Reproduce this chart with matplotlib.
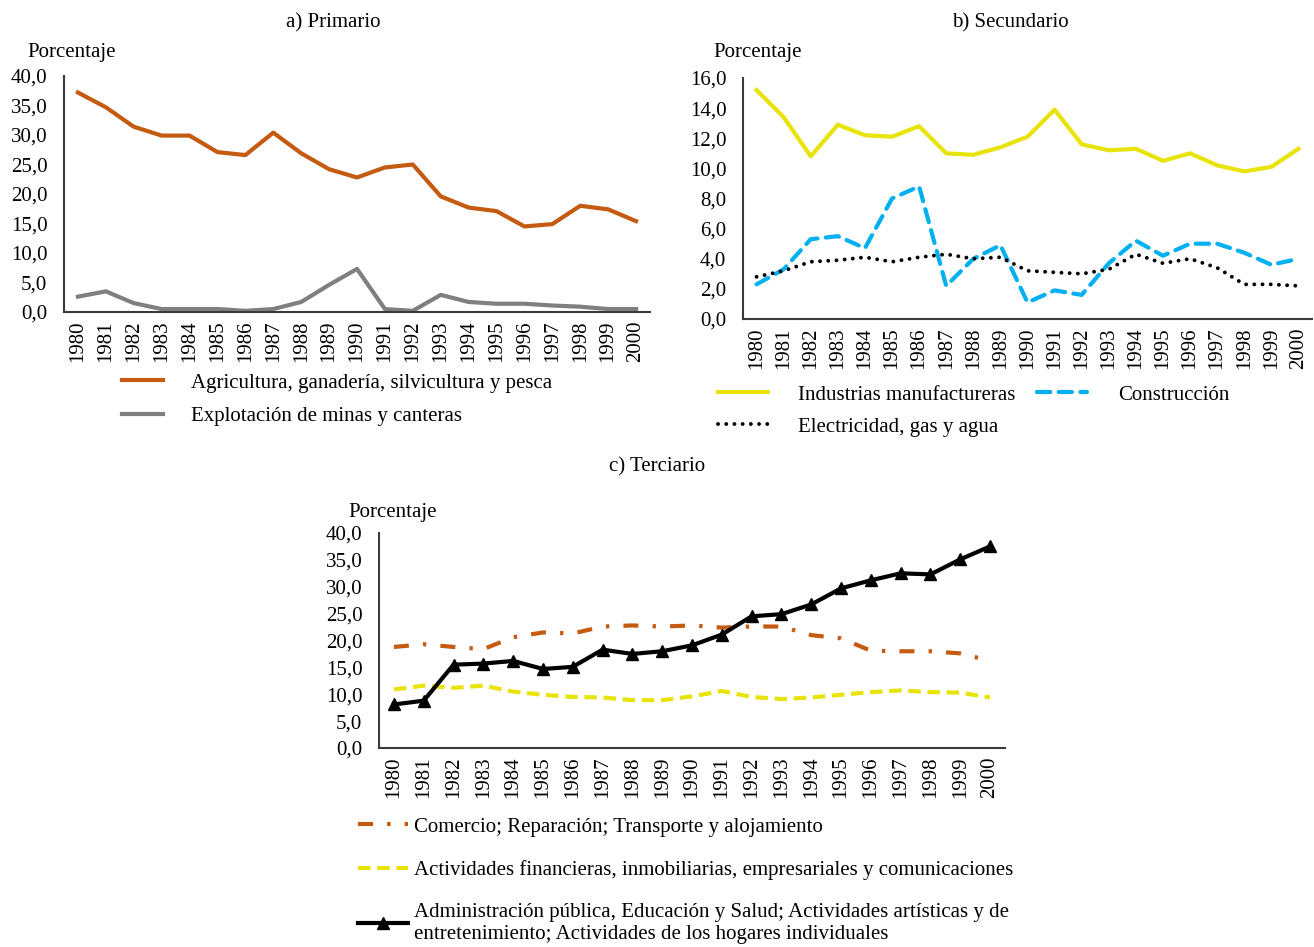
import matplotlib
matplotlib.use("Agg")
import matplotlib.pyplot as plt
from matplotlib.lines import Line2D

# ─── Data ─────────────────────────────────────────────────────────────────────
years = [str(y) for y in range(1980, 2001)]

# a) Primario
agricultura = [37.2, 34.7, 31.4, 29.9, 29.9, 27.1, 26.6, 30.4, 26.9, 24.2, 22.8,
               24.5, 25.0, 19.6, 17.7, 17.1, 14.5, 14.9, 18.0, 17.4, 15.4]
minas = [2.6, 3.5, 1.5, 0.5, 0.5, 0.5, 0.2, 0.5, 1.7, 4.6, 7.3,
         0.5, 0.2, 2.9, 1.7, 1.4, 1.4, 1.1, 0.9, 0.5, 0.5]

# b) Secundario
manufactura = [15.2, 13.4, 10.8, 12.9, 12.2, 12.1, 12.8, 11.0, 10.9, 11.4, 12.1,
               13.9, 11.6, 11.2, 11.3, 10.5, 11.0, 10.2, 9.8, 10.1, 11.3]
construccion = [2.3, 3.3, 5.3, 5.5, 4.7, 8.0, 8.8, 2.2, 4.0, 4.9, 1.1,
                1.9, 1.6, 3.7, 5.2, 4.2, 5.0, 5.0, 4.4, 3.6, 4.0]
electricidad = [2.8, 3.2, 3.8, 3.9, 4.1, 3.8, 4.1, 4.3, 4.0, 4.1, 3.2,
                3.1, 3.0, 3.3, 4.3, 3.7, 4.0, 3.4, 2.3, 2.3, 2.2]

# c) Terciario
comercio = [18.8, 19.3, 18.8, 18.4, 20.6, 21.5, 21.3, 22.6, 22.8, 22.6, 22.8,
            22.4, 22.6, 22.6, 21.0, 20.4, 18.1, 18.0, 18.0, 17.6, 16.2]
financieras = [10.9, 11.6, 11.2, 11.6, 10.5, 9.9, 9.5, 9.4, 8.9, 8.9, 9.6,
               10.6, 9.5, 9.1, 9.4, 9.9, 10.4, 10.7, 10.4, 10.3, 9.4]
administracion = [8.1, 8.8, 15.5, 15.7, 16.2, 14.7, 15.1, 18.3, 17.5, 18.0, 19.1,
                  21.1, 24.5, 24.9, 26.7, 29.7, 31.2, 32.5, 32.3, 35.1, 37.5]

# ─── Style ────────────────────────────────────────────────────────────────────
FS = 15
plt.rcParams.update({
    "font.family": ["Liberation Serif", "DejaVu Serif"],
    "font.size": FS,
    "text.color": "#000000",
})

C_ORANGE = "#C55A11"
C_GRAY = "#7F7F7F"
C_YELLOW = "#E8E40A"
C_BLUE = "#00B0F0"
C_BLACK = "#000000"

W, H = 1314, 947
fig = plt.figure(figsize=(W / 100, H / 100), dpi=100)
fig.patch.set_facecolor("white")


def px_axes(l, t, r, b):
    return fig.add_axes([l / W, 1 - b / H, (r - l) / W, (b - t) / H])


def style_axis(ax, ymax, step):
    ax.set_xlim(-0.5, len(years) - 0.5)
    ax.set_ylim(0, ymax)
    ax.set_xticks(list(range(len(years))))
    ax.set_xticklabels(years, rotation=90)
    ticks = [i * step for i in range(int(round(ymax / step)) + 1)]
    ax.set_yticks(ticks)
    ax.set_yticklabels([f"{t:.1f}".replace(".", ",") for t in ticks])
    ax.tick_params(axis="both", length=0, labelsize=FS)
    ax.tick_params(axis="y", pad=12)
    ax.tick_params(axis="x", pad=6)
    for s in ("top", "right"):
        ax.spines[s].set_visible(False)
    for s in ("left", "bottom"):
        ax.spines[s].set_color("#3a3a3a")
        ax.spines[s].set_linewidth(1.5)


xs = list(range(len(years)))

# ── Panel a: Primario ────────────────────────────────────────────────────────
ax1 = px_axes(64, 76, 650, 312)
ax1.plot(xs, agricultura, color=C_ORANGE, lw=3, solid_joinstyle="round")
ax1.plot(xs, minas, color=C_GRAY, lw=3, solid_joinstyle="round")
style_axis(ax1, 40, 5)
fig.text(333 / W, 1 - 23 / H, "a) Primario", ha="center", va="center")
fig.text(27 / W, 1 - 52 / H, "Porcentaje", ha="left", va="center")

h_a = [Line2D([], [], color=C_ORANGE, lw=3),
       Line2D([], [], color=C_GRAY, lw=3)]
fig.legend(h_a, ["Agricultura, ganadería, silvicultura y pesca",
                 "Explotación de minas y canteras"],
           loc="upper left", bbox_to_anchor=(122 / W, 1 - 373 / H),
           frameon=False, borderpad=0, borderaxespad=0, handlelength=1.95,
           handletextpad=1.35, labelspacing=0.68, fontsize=FS)

# ── Panel b: Secundario ──────────────────────────────────────────────────────
ax2 = px_axes(743, 78, 1312, 319)
ax2.plot(xs, manufactura, color=C_YELLOW, lw=3, solid_joinstyle="round")
ax2.plot(xs, construccion, color=C_BLUE, lw=3, linestyle=(0, (3.2, 2.0)),
         dash_capstyle="round")
ax2.plot(xs, electricidad, color=C_BLACK, lw=2.8, linestyle=(0, (0.01, 2.1)),
         dash_capstyle="round")
style_axis(ax2, 16, 2)
fig.text(1010 / W, 1 - 23 / H, "b) Secundario", ha="center", va="center")
fig.text(713 / W, 1 - 52 / H, "Porcentaje", ha="left", va="center")

h_b = [Line2D([], [], color=C_YELLOW, lw=3),
       Line2D([], [], color=C_BLACK, lw=2.8, linestyle=(0, (0.01, 2.1)),
              dash_capstyle="round"),
       Line2D([], [], color=C_BLUE, lw=3, linestyle=(0, (3.2, 2.0)),
              dash_capstyle="round")]
fig.legend(h_b, ["Industrias manufactureras", "Electricidad, gas y agua",
                 "Construcción"],
           ncol=2, loc="upper left", bbox_to_anchor=(718 / W, 1 - 385 / H),
           frameon=False, borderpad=0, borderaxespad=0, handlelength=2.4,
           handletextpad=1.45, labelspacing=0.6, columnspacing=1.05,
           fontsize=FS)

# ── Panel c: Terciario ───────────────────────────────────────────────────────
ax3 = px_axes(379, 533, 1005, 748)
ls_dashdot = (0, (3.6, 3.4, 0.8, 3.4))
ls_dash = (0, (3.0, 1.6))
ax3.plot(xs, comercio, color=C_ORANGE, lw=3, linestyle=ls_dashdot)
ax3.plot(xs, financieras, color=C_YELLOW, lw=3, linestyle=ls_dash)
ax3.plot(xs, administracion, color=C_BLACK, lw=3, marker="^", markersize=8,
         solid_joinstyle="round")
style_axis(ax3, 40, 5)
fig.text(657 / W, 1 - 467 / H, "c) Terciario", ha="center", va="center")
fig.text(348 / W, 1 - 513 / H, "Porcentaje", ha="left", va="center")

h_c = [Line2D([], [], color=C_ORANGE, lw=3, linestyle=ls_dashdot),
       Line2D([], [], color=C_YELLOW, lw=3, linestyle=ls_dash),
       Line2D([], [], color=C_BLACK, lw=3, marker="^", markersize=8)]
fig.legend(h_c, ["Comercio; Reparación; Transporte y alojamiento",
                 "Actividades financieras, inmobiliarias, empresariales y comunicaciones",
                 "Administración pública, Educación y Salud; Actividades artísticas y de\n"
                 "entretenimiento; Actividades de los hogares individuales"],
           loc="upper left", bbox_to_anchor=(358 / W, 1 - 817 / H),
           frameon=False, borderpad=0, borderaxespad=0, handlelength=2.4,
           handletextpad=0.28, labelspacing=1.12, fontsize=FS)

fig.savefig("out.png", dpi=100, facecolor=fig.get_facecolor())
plt.close()
